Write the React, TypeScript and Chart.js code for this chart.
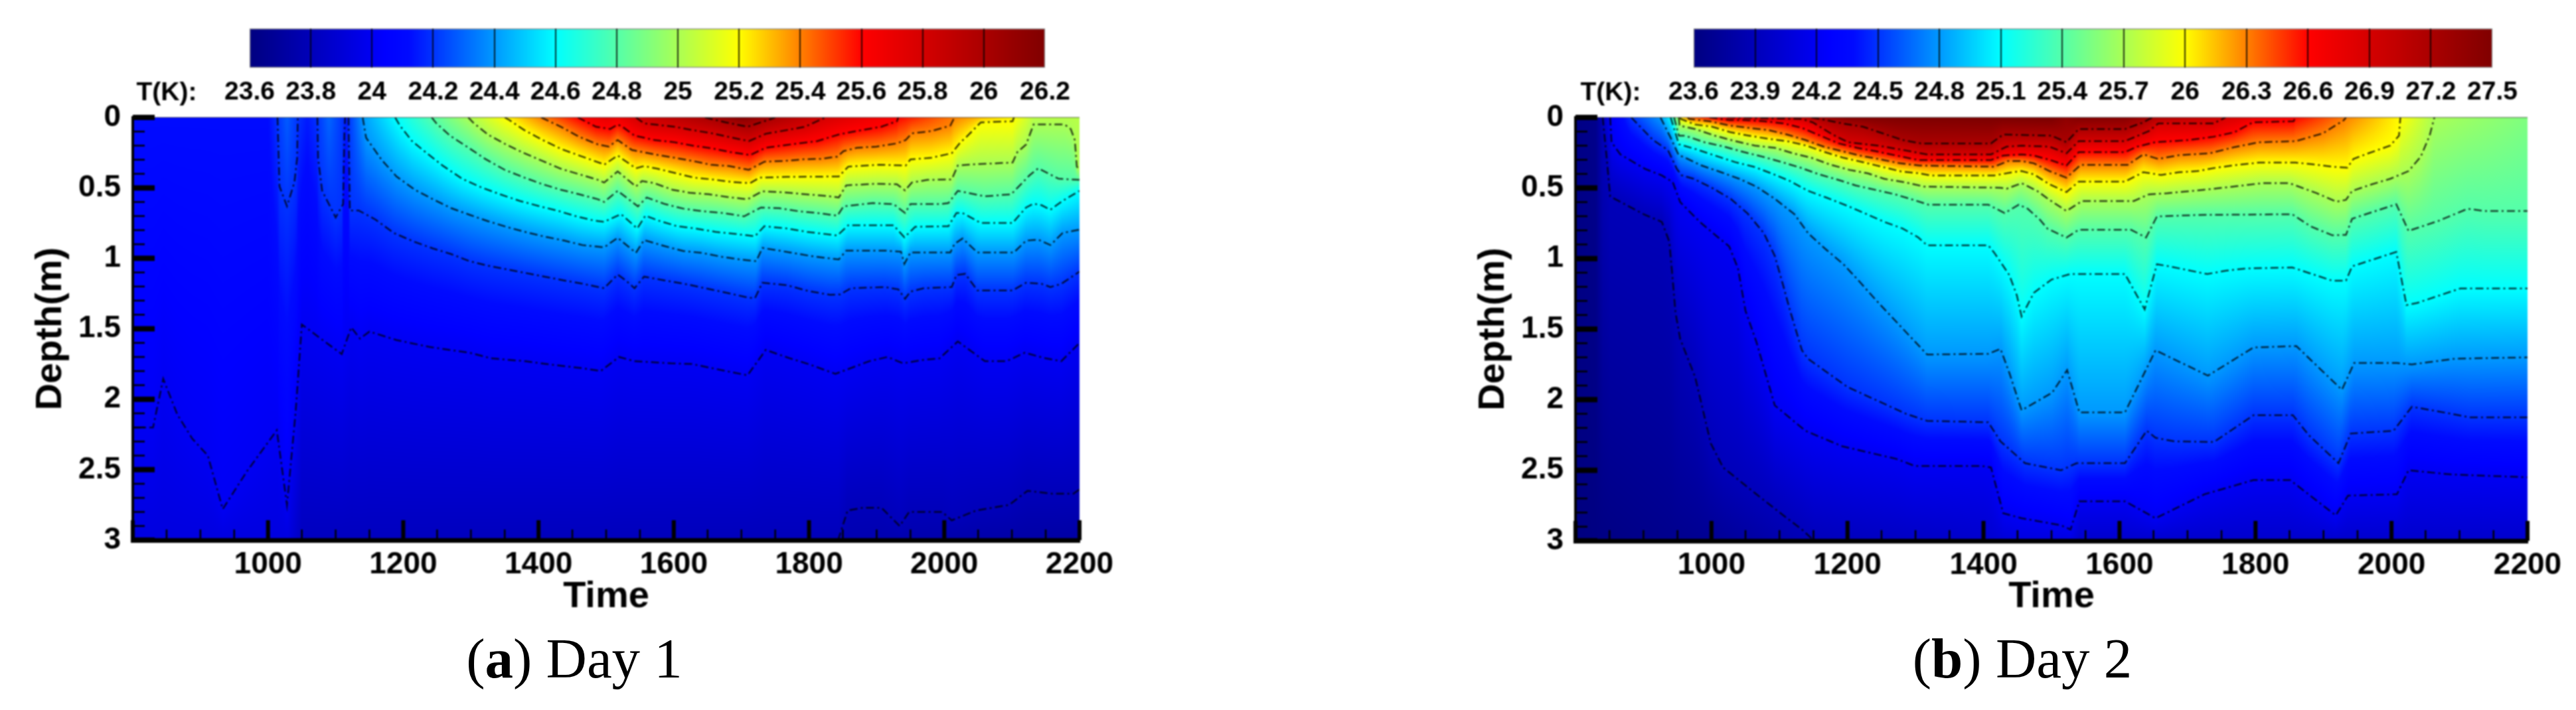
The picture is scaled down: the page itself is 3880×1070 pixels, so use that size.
import React, { useEffect, useRef } from "react";
import { Chart, registerables } from "chart.js";

Chart.register(...registerables);

type Pt = [number, number | null];

/* ---------- Colour legend values ---------- */
const day1Levels = [23.6, 23.8, 24, 24.2, 24.4, 24.6, 24.8, 25, 25.2, 25.4, 25.6, 25.8, 26, 26.2];
const day2Levels = [23.6, 23.9, 24.2, 24.5, 24.8, 25.1, 25.4, 25.7, 26, 26.3, 26.6, 26.9, 27.2, 27.5];

/* ---------- Day 1 isotherms: [time, depth] ---------- */
const d1T238: Pt[] = [[1843,3],[1857,2.79],[1880,2.77],[1907,2.77],[1934,2.9],[1948,2.8],[1997,2.8],[2011,2.86],[2047,2.79],[2096,2.75],[2123,2.65],[2159,2.67],[2191,2.67],[2200,2.64]];
const d1T240: Pt[] = [[800,2.2],[830,2.2],[845,1.855],[866,2.11],[888,2.28],[911,2.4],[933,2.78],[969,2.51],[1013,2.22],[1028,2.75],[1041,2.08],[1050,1.47],[1109,1.68],[1123,1.49],[1136,1.57],[1150,1.52],[1190,1.58],[1240,1.63],[1298,1.67],[1330,1.71],[1380,1.73],[1411,1.75],[1465,1.78],[1492,1.8],[1519,1.7],[1542,1.73],[1596,1.745],[1627,1.75],[1677,1.8],[1709,1.83],[1736,1.65],[1772,1.71],[1799,1.75],[1839,1.82],[1889,1.73],[1916,1.7],[1939,1.745],[1970,1.72],[1993,1.71],[2020,1.59],[2060,1.73],[2092,1.73],[2119,1.67],[2150,1.71],[2173,1.73],[2200,1.6]];
const d1T242: Pt[] = [[1014,0],[1017,0.49],[1028,0.63],[1039,0.46],[1043,0.29],[1044,0],[1058,null],[1073,0],[1074,0.29],[1080,0.52],[1100,0.71],[1111,0.615],[1113,0.1],[1114,0],[1116,null],[1119,0],[1121,0.66],[1134,0.66],[1159,0.725],[1186,0.82],[1215,0.88],[1244,0.93],[1271,0.97],[1298,1.02],[1323,1.05],[1355,1.08],[1382,1.105],[1409,1.13],[1438,1.157],[1465,1.18],[1497,1.212],[1517,1.115],[1529,1.157],[1542,1.212],[1556,1.13],[1587,1.157],[1619,1.184],[1646,1.212],[1677,1.243],[1709,1.278],[1720,1.283],[1731,1.173],[1767,1.19],[1799,1.232],[1831,1.259],[1846,1.256],[1862,1.212],[1912,1.204],[1932,1.22],[1942,1.287],[1950,1.236],[1970,1.212],[2011,1.204],[2018,1.118],[2031,1.11],[2049,1.228],[2101,1.228],[2121,1.173],[2144,1.181],[2157,1.204],[2173,1.181],[2200,1.094]];
const d1T244: Pt[] = [[1140,0],[1145,0.144],[1168,0.301],[1190,0.419],[1217,0.513],[1244,0.581],[1271,0.644],[1298,0.691],[1325,0.736],[1355,0.78],[1382,0.815],[1411,0.848],[1438,0.874],[1465,0.906],[1497,0.922],[1517,0.854],[1544,0.961],[1556,0.87],[1587,0.914],[1614,0.948],[1641,0.961],[1671,0.989],[1698,1.008],[1722,1.02],[1731,0.926],[1772,0.958],[1803,0.984],[1844,1.008],[1855,0.945],[1912,0.945],[1936,0.953],[1941,1.039],[1950,0.958],[2009,0.958],[2015,0.898],[2027,0.859],[2049,0.958],[2103,0.958],[2121,0.874],[2139,0.867],[2157,0.906],[2175,0.82],[2200,0.796]];
const d1T246: Pt[] = [[1188,0],[1195,0.058],[1213,0.168],[1231,0.239],[1258,0.341],[1287,0.435],[1316,0.498],[1343,0.545],[1372,0.592],[1402,0.631],[1429,0.663],[1456,0.702],[1483,0.733],[1497,0.741],[1522,0.686],[1546,0.788],[1558,0.697],[1578,0.733],[1605,0.772],[1632,0.788],[1662,0.812],[1691,0.827],[1720,0.843],[1734,0.772],[1767,0.788],[1797,0.812],[1842,0.838],[1858,0.765],[1925,0.765],[1941,0.851],[1957,0.776],[2006,0.772],[2018,0.678],[2027,0.678],[2054,0.749],[2101,0.749],[2121,0.639],[2132,0.612],[2144,0.623],[2157,0.655],[2175,0.592],[2200,0.521]];
const d1T248: Pt[] = [[1242,0],[1249,0.042],[1269,0.129],[1294,0.207],[1321,0.294],[1350,0.372],[1379,0.427],[1406,0.474],[1433,0.513],[1460,0.545],[1488,0.581],[1497,0.6],[1517,0.521],[1547,0.631],[1560,0.568],[1587,0.615],[1614,0.647],[1643,0.666],[1673,0.678],[1704,0.702],[1729,0.639],[1756,0.644],[1785,0.666],[1812,0.678],[1842,0.697],[1851,0.631],[1894,0.608],[1925,0.615],[1942,0.678],[1950,0.615],[1995,0.615],[2006,0.608],[2020,0.521],[2060,0.56],[2099,0.545],[2126,0.411],[2139,0.361],[2169,0.435],[2200,0.443]];
const d1T250: Pt[] = [[1296,0],[1303,0.035],[1325,0.121],[1352,0.192],[1379,0.254],[1406,0.309],[1433,0.364],[1460,0.403],[1488,0.443],[1497,0.462],[1517,0.383],[1544,0.49],[1553,0.451],[1571,0.466],[1598,0.513],[1623,0.534],[1652,0.545],[1680,0.565],[1709,0.581],[1731,0.524],[1763,0.532],[1794,0.545],[1826,0.557],[1844,0.568],[1855,0.482],[1898,0.471],[1930,0.474],[1942,0.518],[1952,0.462],[1975,0.443],[2011,0.44],[2020,0.341],[2042,0.333],[2101,0.32],[2108,0.246],[2121,0.192],[2132,0.05],[2178,0.05],[2187,0.082],[2193,0.16],[2196,0.349],[2200,0.372]];
const d1T252: Pt[] = [[1350,0],[1357,0.019],[1379,0.09],[1406,0.16],[1433,0.223],[1460,0.27],[1492,0.325],[1497,0.336],[1517,0.27],[1526,0.301],[1544,0.361],[1556,0.345],[1576,0.364],[1603,0.396],[1630,0.427],[1657,0.44],[1686,0.458],[1713,0.466],[1727,0.427],[1767,0.422],[1844,0.419],[1858,0.349],[1903,0.336],[1943,0.341],[1950,0.298],[1981,0.286],[2011,0.254],[2024,0.176],[2033,0.137],[2054,0.035],[2101,0.027],[2103,0]];
const d1T254: Pt[] = [[1404,0],[1433,0.066],[1460,0.137],[1488,0.192],[1504,0.207],[1517,0.16],[1538,0.231],[1571,0.262],[1601,0.286],[1628,0.309],[1655,0.336],[1682,0.345],[1711,0.372],[1734,0.314],[1763,0.309],[1792,0.297],[1817,0.294],[1842,0.278],[1851,0.239],[1871,0.215],[1900,0.207],[1930,0.184],[1943,0.16],[1952,0.113],[1981,0.097],[2009,0.058],[2015,0]];
const d1T256: Pt[] = [[1458,0],[1485,0.066],[1506,0.082],[1517,0.05],[1524,0.066],[1542,0.129],[1571,0.16],[1601,0.176],[1628,0.2],[1657,0.22],[1684,0.246],[1713,0.267],[1736,0.215],[1767,0.195],[1812,0.168],[1844,0.121],[1878,0.09],[1907,0.066],[1930,0.027],[1932,0]];
const d1T258: Pt[] = [[1544,0],[1556,0.042],[1601,0.066],[1628,0.09],[1657,0.113],[1684,0.141],[1711,0.168],[1736,0.116],[1767,0.09],[1794,0.066],[1824,0]];
const d1T260: Pt[] = [[1646,0],[1677,0.035],[1709,0.066],[1738,0.02],[1750,0]];
const d1Isotherms: [number, Pt[]][] = [[23.8,d1T238],[24,d1T240],[24.2,d1T242],[24.4,d1T244],[24.6,d1T246],[24.8,d1T248],[25,d1T250],[25.2,d1T252],[25.4,d1T254],[25.6,d1T256],[25.8,d1T258],[26,d1T260]];
const d1Surface: Pt[] = [[800,24.12],[1000,24.12],[1014,24.2],[1028,24.28],[1044,24.2],[1058,24.15],[1073,24.2],[1090,24.3],[1110,24.2],[1116,24.15],[1119,24.2],[1130,24.3],[1140,24.4],[1188,24.6],[1242,24.8],[1296,25],[1350,25.2],[1404,25.4],[1458,25.6],[1500,25.72],[1517,25.68],[1544,25.8],[1646,26],[1700,26.18],[1750,26],[1824,25.8],[1932,25.6],[2015,25.4],[2103,25.2],[2132,25.04],[2178,25.03],[2200,25.03]];
const d1Bottom: Pt[] = [[800,23.93],[1030,23.93],[1050,23.82],[1843,23.8],[1860,23.77],[2200,23.72]];

/* ---------- Day 2 isotherms: [time, depth] ---------- */
const d2T239: Pt[] = [[840,0],[846,0.29],[851,0.56],[902,0.69],[927,0.74],[938,0.88],[943,1.15],[947,1.38],[954,1.57],[976,1.84],[999,2.31],[1017,2.48],[1066,2.67],[1111,2.84],[1133,2.92],[1151,3]];
const d2T242: Pt[] = [[851,0],[853,0.176],[866,0.262],[902,0.364],[927,0.411],[943,0.458],[954,0.6],[983,0.741],[1008,0.843],[1026,0.914],[1039,1.07],[1050,1.37],[1066,1.59],[1093,2.04],[1138,2.22],[1192,2.33],[1272,2.42],[1299,2.47],[1398,2.47],[1411,2.48],[1429,2.805],[1456,2.84],[1514,2.89],[1528,2.92],[1541,2.72],[1608,2.72],[1653,2.84],[1725,2.67],[1797,2.57],[1851,2.57],[1918,2.82],[1936,2.68],[2008,2.67],[2025,2.5],[2088,2.53],[2200,2.55]];
const d2T245: Pt[] = [[882,0],[914,0.16],[936,0.231],[949,0.364],[956,0.41],[974,0.435],[1001,0.5],[1028,0.576],[1053,0.68],[1077,0.82],[1093,0.98],[1106,1.2],[1115,1.36],[1133,1.65],[1142,1.71],[1200,1.91],[1286,2.1],[1317,2.15],[1407,2.16],[1425,2.295],[1461,2.45],[1514,2.5],[1537,2.45],[1608,2.45],[1640,2.22],[1653,2.27],[1680,2.295],[1739,2.3],[1797,2.11],[1855,2.11],[1878,2.25],[1922,2.45],[1940,2.24],[2003,2.22],[2030,2.05],[2088,2.1],[2115,2.125],[2200,2.125]];
const d2T248: Pt[] = [[925,0],[940,0.144],[952,0.27],[958,0.278],[985,0.34],[1014,0.388],[1041,0.435],[1066,0.49],[1093,0.576],[1122,0.686],[1142,0.82],[1167,0.93],[1194,1.04],[1218,1.165],[1241,1.29],[1317,1.68],[1407,1.675],[1425,1.64],[1438,1.81],[1456,2.075],[1501,1.95],[1523,1.79],[1541,2.09],[1608,2.09],[1653,1.65],[1730,1.83],[1797,1.63],[1860,1.62],[1927,1.93],[1945,1.74],[2008,1.74],[2030,1.75],[2093,1.71],[2200,1.7]];
const d2T251: Pt[] = [[940,0],[952,0.19],[976,0.223],[1005,0.27],[1035,0.317],[1062,0.349],[1088,0.396],[1115,0.45],[1142,0.52],[1169,0.568],[1198,0.623],[1225,0.678],[1254,0.74],[1281,0.787],[1304,0.85],[1317,0.906],[1407,0.906],[1416,0.96],[1438,1.117],[1449,1.26],[1456,1.41],[1474,1.243],[1500,1.149],[1527,1.11],[1608,1.11],[1637,1.36],[1655,1.04],[1673,1.055],[1729,1.11],[1756,1.086],[1787,1.07],[1854,1.063],[1913,1.157],[1933,1.157],[1942,1.055],[2007,0.953],[2022,1.33],[2038,1.314],[2101,1.212],[2200,1.212]];
const d2T254: Pt[] = [[945,0],[952,0.129],[961,0.129],[990,0.176],[1019,0.207],[1048,0.246],[1075,0.278],[1104,0.317],[1131,0.356],[1158,0.403],[1187,0.443],[1212,0.482],[1241,0.513],[1270,0.545],[1297,0.584],[1319,0.618],[1407,0.618],[1431,0.678],[1452,0.618],[1465,0.647],[1483,0.725],[1494,0.788],[1522,0.851],[1540,0.796],[1617,0.796],[1639,0.851],[1655,0.702],[1715,0.691],[1854,0.686],[1881,0.772],[1913,0.835],[1933,0.832],[1942,0.718],[2007,0.615],[2025,0.804],[2069,0.733],[2112,0.647],[2137,0.663],[2200,0.663]];
const d2T257: Pt[] = [[952,0],[953,0.058],[976,0.082],[1005,0.129],[1035,0.168],[1064,0.2],[1093,0.215],[1120,0.254],[1147,0.286],[1174,0.333],[1203,0.372],[1230,0.396],[1254,0.435],[1283,0.458],[1313,0.49],[1425,0.498],[1434,0.505],[1456,0.466],[1479,0.521],[1497,0.584],[1522,0.663],[1545,0.592],[1621,0.592],[1643,0.545],[1670,0.537],[1724,0.513],[1782,0.482],[1809,0.466],[1850,0.466],[1890,0.537],[1919,0.597],[1933,0.584],[1942,0.521],[1971,0.474],[1998,0.435],[2025,0.38],[2043,0.278],[2056,0.129],[2063,0]];
const d2T260: Pt[] = [[954,0],[955,0.011],[976,0.05],[1001,0.066],[1028,0.105],[1055,0.129],[1084,0.152],[1111,0.168],[1140,0.2],[1167,0.246],[1194,0.286],[1223,0.317],[1250,0.349],[1279,0.383],[1306,0.396],[1322,0.411],[1416,0.411],[1443,0.388],[1456,0.38],[1474,0.403],[1497,0.474],[1522,0.529],[1540,0.455],[1608,0.455],[1635,0.388],[1661,0.408],[1688,0.388],[1715,0.38],[1742,0.356],[1774,0.336],[1805,0.32],[1859,0.32],[1881,0.33],[1913,0.349],[1935,0.356],[1944,0.294],[1966,0.254],[1998,0.2],[2011,0.129],[2013,0]];
const d2T263: Pt[] = [[965,0],[967,0.011],[997,0.027],[1028,0.058],[1055,0.074],[1084,0.09],[1111,0.121],[1138,0.16],[1165,0.207],[1192,0.239],[1218,0.27],[1245,0.294],[1277,0.325],[1306,0.341],[1416,0.349],[1436,0.309],[1456,0.309],[1474,0.325],[1497,0.38],[1522,0.427],[1543,0.336],[1612,0.336],[1635,0.262],[1657,0.294],[1688,0.267],[1733,0.254],[1769,0.21],[1805,0.176],[1859,0.168],[1899,0.113],[1930,0.019],[1933,0]];
const d2T266: Pt[] = [[997,0],[1026,0.019],[1048,0.019],[1077,0.027],[1106,0.042],[1133,0.074],[1160,0.129],[1187,0.184],[1214,0.215],[1241,0.239],[1272,0.27],[1304,0.302],[1411,0.302],[1429,0.27],[1456,0.262],[1474,0.27],[1497,0.3],[1522,0.341],[1540,0.246],[1608,0.246],[1626,0.207],[1652,0.176],[1702,0.16],[1738,0.137],[1769,0.105],[1796,0.035],[1856,0.027],[1859,0]];
const d2T269: Pt[] = [[1023,0],[1077,0.006],[1133,0.011],[1149,0.035],[1178,0.121],[1201,0.176],[1245,0.2],[1281,0.23],[1317,0.262],[1411,0.262],[1434,0.207],[1456,0.2],[1497,0.207],[1522,0.254],[1540,0.168],[1608,0.168],[1643,0.097],[1657,0.042],[1738,0.042],[1756,0]];
const d2T272: Pt[] = [[1147,0],[1169,0.019],[1192,0.042],[1223,0.066],[1252,0.113],[1281,0.16],[1308,0.184],[1411,0.184],[1429,0.121],[1500,0.129],[1522,0.176],[1540,0.082],[1608,0.082],[1635,0.035],[1648,0]];
const d2Isotherms: [number, Pt[]][] = [[23.9,d2T239],[24.2,d2T242],[24.5,d2T245],[24.8,d2T248],[25.1,d2T251],[25.4,d2T254],[25.7,d2T257],[26,d2T260],[26.3,d2T263],[26.6,d2T266],[26.9,d2T269],[27.2,d2T272]];
const d2Surface: Pt[] = [[800,23.63],[830,23.66],[840,23.9],[851,24.2],[882,24.5],[925,24.8],[940,25.1],[945,25.4],[952,25.7],[954,26],[965,26.3],[997,26.6],[1023,26.9],[1147,27.2],[1200,27.5],[1500,27.55],[1522,27.4],[1540,27.5],[1608,27.45],[1648,27.2],[1756,26.9],[1859,26.6],[1933,26.3],[2013,26],[2063,25.7],[2200,25.55]];
const d2Bottom: Pt[] = [[800,23.6],[1000,23.7],[1151,23.9],[1400,24],[1456,24.1],[1530,24.1],[1541,24],[2200,24]];

/* ---------- Colour map ---------- */
const mapStops: [number, number, number, number][] = [
  [0, 0, 0, 128], [0.17, 0, 0, 255], [0.2, 0, 10, 255], [0.385, 0, 255, 255], [0.5, 127, 255, 127],
  [0.615, 255, 255, 0], [0.77, 255, 0, 0], [1, 128, 0, 0],
];
function mapColor(f: number): [number, number, number] {
  const v = Math.max(0, Math.min(1, f));
  for (let i = 1; i < mapStops.length; i++) {
    if (v <= mapStops[i][0]) {
      const a = mapStops[i - 1], b = mapStops[i];
      const k = (v - a[0]) / (b[0] - a[0]);
      return [a[1] + (b[1] - a[1]) * k, a[2] + (b[2] - a[2]) * k, a[3] + (b[3] - a[3]) * k];
    }
  }
  return [128, 0, 0];
}
function rowAt(pts: Pt[], t: number): number {
  const p = pts.filter((q) => q[1] !== null) as [number, number][];
  if (t <= p[0][0]) return p[0][1];
  for (let i = 1; i < p.length; i++) {
    if (t <= p[i][0]) {
      const k = (t - p[i - 1][0]) / (p[i][0] - p[i - 1][0]);
      return p[i - 1][1] + (p[i][1] - p[i - 1][1]) * k;
    }
  }
  return p[p.length - 1][1];
}

type Panel = {
  left: number; plotLeft: number; plotRight: number; plotTop: number; plotBottom: number;
  barLeft: number; barRight: number; barTop: number; barBottom: number; labelX: number;
  titleX: number; levels: number[]; isotherms: [number, Pt[]][]; surface: Pt[]; bottom: Pt[];
  caption: [string, string]; captionX: number;
};

const panels: Panel[] = [
  { left: 0, plotLeft: 200, plotRight: 1626, plotTop: 177, plotBottom: 814, barLeft: 376, barRight: 1574, barTop: 43, barBottom: 102, labelX: 251, titleX: 77, levels: day1Levels, isotherms: d1Isotherms, surface: d1Surface, bottom: d1Bottom, caption: ["a", " Day 1"], captionX: 865 },
  { left: 1940, plotLeft: 2373, plotRight: 3807, plotTop: 177, plotBottom: 815, barLeft: 2551, barRight: 3754, barTop: 43, barBottom: 102, labelX: 2426, titleX: 2250, levels: day2Levels, isotherms: d2Isotherms, surface: d2Surface, bottom: d2Bottom, caption: ["b", " Day 2"], captionX: 3046 },
];

const SANS = "'Liberation Sans', Arial, sans-serif";
const SOFT = "blur(1px)";

function fieldPlugin(p: Panel) {
  return {
    id: "field",
    beforeDatasetsDraw(chart: any) {
      const { left, top, width, height } = chart.chartArea;
      const w = Math.round(width), h = Math.round(height);
      const off = document.createElement("canvas");
      off.width = w; off.height = h;
      const octx = off.getContext("2d")!;
      const img = octx.createImageData(w, h);
      const sx = chart.scales.x, sy = chart.scales.y;
      const lo = p.levels[0], hi = p.levels[p.levels.length - 1];
      const depthOf = new Float64Array(h);
      for (let j = 0; j < h; j++) depthOf[j] = sy.getValueForPixel(top + j + 0.5);
      for (let i = 0; i < w; i++) {
        const t = sx.getValueForPixel(left + i + 0.5);
        const surf = rowAt(p.surface, t), bot = rowAt(p.bottom, t);
        const knots: [number, number][] = [[0, surf]];
        for (let k = p.isotherms.length - 1; k >= 0; k--) {
          const [lev, pts] = p.isotherms[k];
          if (lev >= surf || lev <= bot) continue;
          const d = rowAt(pts, t);
          if (d > knots[knots.length - 1][0] && d < 3) knots.push([d, lev]);
        }
        knots.push([3, bot]);
        let s = 0;
        for (let j = 0; j < h; j++) {
          const d = depthOf[j];
          while (s < knots.length - 2 && d > knots[s + 1][0]) s++;
          const a = knots[s], b = knots[s + 1];
          const T = a[1] + (b[1] - a[1]) * Math.max(0, Math.min(1, (d - a[0]) / (b[0] - a[0])));
          const c = mapColor((T - lo) / (hi - lo));
          const o = (j * w + i) * 4;
          img.data[o] = c[0]; img.data[o + 1] = c[1]; img.data[o + 2] = c[2]; img.data[o + 3] = 255;
        }
      }
      octx.putImageData(img, 0, 0);
      chart.ctx.drawImage(off, left, top);
    },
  };
}

const minorTime = 50, minorDepth = 0.1;
const tickPlugin = {
  id: "inwardTicks",
  afterDatasetsDraw(chart: any) {
    const { ctx, chartArea: a, scales } = chart;
    ctx.save();
    ctx.strokeStyle = "rgba(0,0,0,0.3)";
    ctx.lineWidth = 2;
    ctx.beginPath(); ctx.moveTo(a.left, a.top); ctx.lineTo(a.right, a.top); ctx.stroke();
    ctx.strokeStyle = "#000";
    const sx = scales.x, sy = scales.y;
    for (let v = sx.min; v <= sx.max + 1e-6; v += minorTime) {
      const major = Math.round(v) % 200 === 0;
      const px = sx.getPixelForValue(v);
      ctx.lineWidth = major ? 6 : 2.5;
      ctx.beginPath(); ctx.moveTo(px, a.bottom); ctx.lineTo(px, a.bottom - (major ? 30 : 16)); ctx.stroke();
    }
    for (let i = 0; i <= 30; i++) {
      const v = i * minorDepth;
      const major = i % 5 === 0;
      const py = sy.getPixelForValue(v);
      ctx.lineWidth = major ? 8 : 2.5;
      ctx.beginPath(); ctx.moveTo(a.left, py); ctx.lineTo(a.left + (major ? 33 : 18), py); ctx.stroke();
    }
    ctx.restore();
  },
};

function makeField(canvas: HTMLCanvasElement, p: Panel) {
  return new Chart(canvas, {
    type: "line",
    data: {
      datasets: p.isotherms.map(([lev, pts]) => ({
        label: String(lev),
        data: pts.map(([x, y]) => ({ x, y })),
        borderColor: "rgba(0,0,0,0.75)",
        borderWidth: 2.5,
        borderDash: [12, 5, 3, 5],
        pointRadius: 0,
        tension: 0,
        spanGaps: false,
      })) as any,
    },
    plugins: [fieldPlugin(p), tickPlugin] as any,
    options: {
      responsive: false, animation: false, devicePixelRatio: 1,
      layout: { padding: { left: 0, top: p.plotTop, right: p.left + 1940 - p.plotRight, bottom: 0 } },
      plugins: { legend: { display: false }, tooltip: { enabled: false }, title: { display: false } },
      scales: {
        x: {
          type: "linear", min: 800, max: 2200,
          grid: { display: false, drawTicks: false },
          border: { display: true, color: "#000", width: 7, z: 1 },
          ticks: {
            stepSize: 200, autoSkip: false, maxRotation: 0, padding: 10, color: "#000",
            font: { family: SANS, size: 46, weight: "bold" },
            callback: (v: any) => (v === 800 ? "" : String(v)),
          },
          title: {
            display: true, text: "Time", color: "#000",
            font: { family: SANS, size: 56, weight: "bold" },
            padding: { top: 0, bottom: 137 },
          },
          afterFit(s: any) { s.height = 1070 - p.plotBottom; s.paddingLeft = 0; s.paddingRight = 0; },
        },
        y: {
          type: "linear", min: 0, max: 3, reverse: true,
          grid: { display: false, drawTicks: false },
          border: { display: true, color: "#000", width: 4, z: 1 },
          ticks: {
            stepSize: 0.5, padding: 18, color: "#000", autoSkip: false,
            font: { family: SANS, size: 46, weight: "bold" },
            callback: (v: any) => String(v),
          },
          title: {
            display: true, text: "Depth(m)", color: "#000",
            font: { family: SANS, size: 56, weight: "bold" },
            padding: { top: p.titleX - p.left - 34, bottom: 0 },
          },
          afterFit(s: any) { s.width = p.plotLeft - p.left; s.paddingTop = 0; s.paddingBottom = 0; },
        },
      },
    } as any,
  });
}

function makeBar(canvas: HTMLCanvasElement, p: Panel) {
  const lo = p.levels[0], hi = p.levels[p.levels.length - 1];
  const labelPlugin = {
    id: "barLabel",
    afterDraw(chart: any) {
      const { ctx, scales } = chart;
      ctx.save();
      ctx.fillStyle = "#000";
      ctx.font = `bold 39px ${SANS}`;
      ctx.textAlign = "center";
      ctx.textBaseline = "middle";
      ctx.fillText("T(K):", p.labelX - p.left, scales.x.top + 38);
      ctx.restore();
    },
  };
  return new Chart(canvas, {
    type: "bar",
    data: {
      labels: ["T(K)"],
      datasets: [{
        label: "T(K)",
        data: [[lo, hi]],
        barPercentage: 1,
        categoryPercentage: 1,
        borderSkipped: false,
        borderWidth: 1.5,
        borderColor: "rgba(0,0,0,0.5)",
        backgroundColor: (c: any) => {
          const area = c.chart.chartArea;
          if (!area || !Number.isFinite(area.left) || !Number.isFinite(area.right)) return "#00f";
          const g = c.chart.ctx.createLinearGradient(area.left, 0, area.right, 0);
          mapStops.forEach(([f, r, gg, b]) => g.addColorStop(f, `rgb(${r},${gg},${b})`));
          return g;
        },
      }] as any,
    },
    plugins: [labelPlugin] as any,
    options: {
      indexAxis: "y", responsive: false, animation: false, devicePixelRatio: 1,
      layout: { padding: { left: p.barLeft - p.left, right: p.left + 1940 - p.barRight, top: p.barTop, bottom: 0 } },
      plugins: { legend: { display: false }, tooltip: { enabled: false } },
      scales: {
        y: { type: "category", display: false },
        x: {
          type: "linear", min: lo, max: hi,
          border: { display: false },
          grid: {
            drawTicks: false, z: 1, lineWidth: 2,
            color: (c: any) => (c.index === 0 || c.index === p.levels.length - 1 ? "rgba(0,0,0,0)" : "rgba(0,0,0,0.8)"),
          },
          ticks: {
            padding: 14, color: "#000", autoSkip: false, maxRotation: 0,
            font: { family: SANS, size: 39, weight: "bold" },
            callback: (v: any) => String(v),
          },
          afterBuildTicks(s: any) { s.ticks = p.levels.map((value) => ({ value })); },
          afterFit(s: any) { s.height = 176 - p.barBottom; s.paddingLeft = 0; s.paddingRight = 0; },
        },
      },
    } as any,
  });
}

function PanelView({ p }: { p: Panel }) {
  const fieldRef = useRef<HTMLCanvasElement>(null);
  const barRef = useRef<HTMLCanvasElement>(null);
  useEffect(() => {
    const a = makeField(fieldRef.current!, p);
    const b = makeBar(barRef.current!, p);
    return () => { a.destroy(); b.destroy(); };
  }, [p]);
  return (
    <>
      <canvas ref={fieldRef} width={1940} height={1070} style={{ position: "absolute", left: p.left, top: 0, width: 1940, height: 1070, filter: SOFT }} />
      <canvas ref={barRef} width={1940} height={176} style={{ position: "absolute", left: p.left, top: 0, width: 1940, height: 176, filter: SOFT }} />
      <div style={{ position: "absolute", left: p.captionX, top: 992 - 50, transform: "translateX(-50%)", font: "85px/100px 'Liberation Serif', serif", color: "#000", whiteSpace: "pre" }}>
        (<b>{p.caption[0]}</b>){p.caption[1]}
      </div>
    </>
  );
}

export default function App() {
  return (
    <div style={{ position: "absolute", left: 0, top: 0, width: 3880, height: 1070, background: "#fff", overflow: "hidden" }}>
      {panels.map((p) => <PanelView key={p.left} p={p} />)}
    </div>
  );
}
